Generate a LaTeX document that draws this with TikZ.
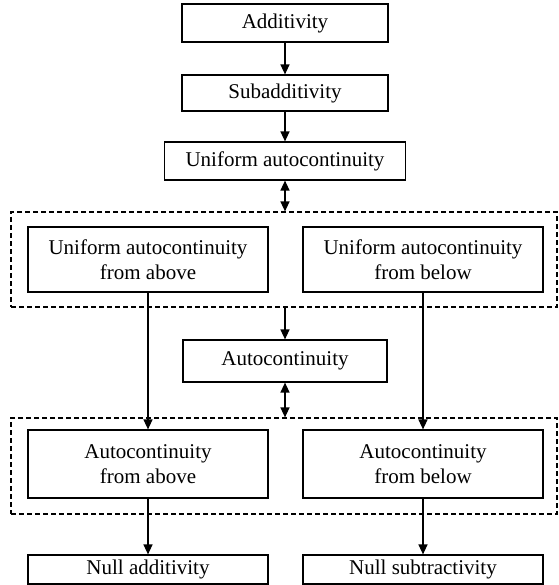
\documentclass[tikz,border=0pt]{standalone}
\usepackage{fontspec}
\setmainfont{Liberation Serif}
\usetikzlibrary{arrows.meta}
\begin{document}
\begin{tikzpicture}[x=1pt,y=-1pt,
  box/.style={draw,line width=1.2pt,inner sep=0pt,align=center,
    font=\fontsize{21}{25}\selectfont},
  dashbox/.style={draw,line width=1.2pt,dash pattern=on 5pt off 3pt,inner sep=0pt},
  arr/.style={line width=1.4pt,-{Triangle[length=10pt,width=9pt]}},
  darr/.style={line width=1.4pt,{Triangle[length=10pt,width=9pt]}-{Triangle[length=10pt,width=9pt]}}]
\useasboundingbox (0,0) rectangle (558,585);
\node[box,minimum width=206pt,minimum height=38pt] (add) at (285,23) {Additivity};
\node[box,minimum width=206pt,minimum height=36pt] (sub) at (285,93) {Subadditivity};
\node[box,minimum width=241pt,minimum height=38pt] (unif) at (285,161) {Uniform autocontinuity};
\node[dashbox,minimum width=546pt,minimum height=95pt] (dash1) at (284,259.5) {};
\node[box,minimum width=240pt,minimum height=65pt] (uaa) at (148,259.5) {Uniform autocontinuity\\from above};
\node[box,minimum width=240pt,minimum height=65pt] (uab) at (423,259.5) {Uniform autocontinuity\\from below};
\node[box,minimum width=204pt,minimum height=42pt] (auto) at (285,361) {Autocontinuity};
\node[dashbox,minimum width=546pt,minimum height=96pt] (dash2) at (284,466) {};
\node[box,minimum width=240pt,minimum height=68pt] (aca) at (148,464) {Autocontinuity\\from above};
\node[box,minimum width=240pt,minimum height=68pt] (acb) at (423,464) {Autocontinuity\\from below};
\node[box,minimum width=240pt,minimum height=29pt] (nadd) at (148,569.5) {Null additivity};
\node[box,minimum width=240pt,minimum height=29pt] (nsub) at (423,569.5) {Null subtractivity};
\draw[arr] (add.south) -- (sub.north);
\draw[arr] (sub.south) -- (unif.north);
\draw[darr] (unif.south) -- (unif.south |- dash1.north);
\draw[arr] (uaa.south) -- (aca.north);
\draw[arr] (uab.south) -- (acb.north);
\draw[arr] (auto.north |- dash1.south) -- (auto.north);
\draw[darr] (auto.south) -- (auto.south |- dash2.north);
\draw[arr] (aca.south) -- (nadd.north);
\draw[arr] (acb.south) -- (nsub.north);
\end{tikzpicture}
\end{document}
